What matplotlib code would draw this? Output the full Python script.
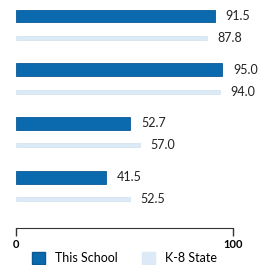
import matplotlib
matplotlib.use('Agg')
import matplotlib.pyplot as plt
import numpy as np
from matplotlib.patches import Patch

# data
school = [91.5, 95.0, 52.7, 41.5]
state = [87.8, 94.0, 57.0, 52.5]
series_names = ['This School', 'K-8 State']

dark = '#0b69ad'
light = '#dbeaf6'

plt.rcParams['font.family'] = ['Lato', 'DejaVu Sans']

fig = plt.figure(figsize=(2.65, 2.65), dpi=100)
ax = fig.add_axes([16 / 265, 37 / 265, 217 / 265, 228 / 265])

pos = np.arange(len(school))
off = 0.41
ax.barh(pos, school, height=0.24, color=dark, edgecolor='#0a5a96', linewidth=0.6)
ax.barh(pos + off, state, height=0.075, color=light, edgecolor='#c9dcec', linewidth=0.4)

for p, v in zip(pos, school):
    ax.text(v + 5, p, f'{v:.1f}', va='center', ha='left', fontsize=9, color='#222222')
for p, v in zip(pos, state):
    ax.text(v + 5, p + off, f'{v:.1f}', va='center', ha='left', fontsize=9, color='#222222')

ax.set_xlim(0, 100)
ax.set_ylim(3.948, -0.298)
ax.set_xticks([0, 100])
ax.set_xticklabels(['0', '100'], fontsize=8, fontweight='bold')
ax.set_yticks([])
for s in ['top', 'right', 'left']:
    ax.spines[s].set_visible(False)
ax.spines['bottom'].set_color('#333333')
ax.tick_params(axis='x', direction='out', length=6, width=1, color='#333333', pad=2)

handles = [Patch(facecolor=dark, edgecolor='#0a5a96'), Patch(facecolor=light, edgecolor=light)]
fig.legend(handles, series_names, loc='lower center', bbox_to_anchor=(0.47, -0.04), ncol=2,
           frameon=False, fontsize=9, handlelength=1.0, handleheight=1.0, columnspacing=2.0,
           handletextpad=0.8)

fig.savefig('out.png', dpi=100)
